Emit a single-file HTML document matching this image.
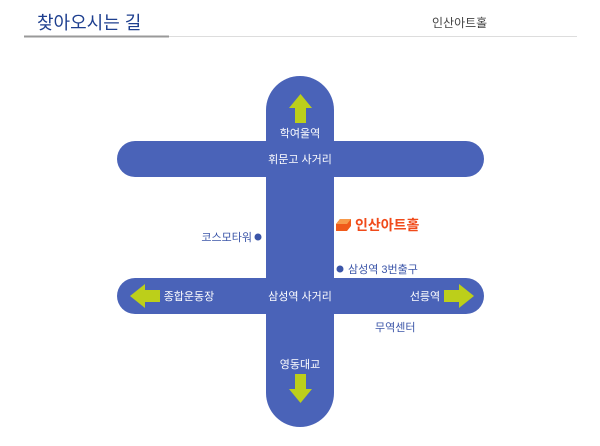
<!DOCTYPE html>
<html><head><meta charset="utf-8"><style>
body{margin:0;background:#fff;width:600px;height:441px;overflow:hidden;font-family:"Liberation Sans","Noto Sans CJK KR",sans-serif}
</style></head><body>
<svg width="600" height="441" viewBox="0 0 600 441" xmlns="http://www.w3.org/2000/svg" font-family="Liberation Sans, Noto Sans CJK KR, sans-serif">
<text x="37" y="29" font-size="18" fill="#1e3f8f">찾아오시는 길</text>
<text x="432" y="27" font-size="12" fill="#444">인산아트홀</text>
<rect x="24" y="36" width="553" height="1" fill="#ddd"/>
<rect x="24" y="35.5" width="145" height="2" fill="#999"/>
<g fill="#4a63b8">
<rect x="266" y="76" width="68" height="351" rx="34"/>
<rect x="117" y="141" width="367" height="36" rx="18"/>
<rect x="117" y="278" width="367" height="36" rx="18"/>
</g>
<g fill="#bccf1a">
<polygon points="300.5,94 312,108 306,108 306,123 295,123 295,108 289,108"/>
<polygon points="300.5,403 312,389 306,389 306,374 295,374 295,389 289,389"/>
<polygon points="130,296 145,284 145,290 160,290 160,302 145,302 145,308"/>
<polygon points="474,296 459,284 459,290 444,290 444,302 459,302 459,308"/>
</g>
<g fill="#fff" font-size="11" text-anchor="middle">
<text x="300" y="137">학여울역</text>
<text x="300" y="163">휘문고 사거리</text>
<text x="300" y="300">삼성역 사거리</text>
<text x="189" y="300">종합운동장</text>
<text x="425" y="300">선릉역</text>
<text x="300" y="368">영동대교</text>
</g>
<g fill="#3b55a8" font-size="11">
<text x="252" y="241" text-anchor="end">코스모타워</text>
<circle cx="258" cy="237" r="3.5"/>
<circle cx="340" cy="269" r="3.5"/>
<text x="348" y="273">삼성역 3번출구</text>
<text x="375" y="331">무역센터</text>
</g>
<polygon points="336,224 340,219 351,219 351,226 347,231 336,231" fill="#f05a1a"/>
<polygon points="336,224 340,219 351,219 347,224" fill="#f79a4a"/>
<text x="355" y="230" font-size="14" font-weight="bold" fill="#f04a1a">인산아트홀</text>
</svg>
</body></html>
